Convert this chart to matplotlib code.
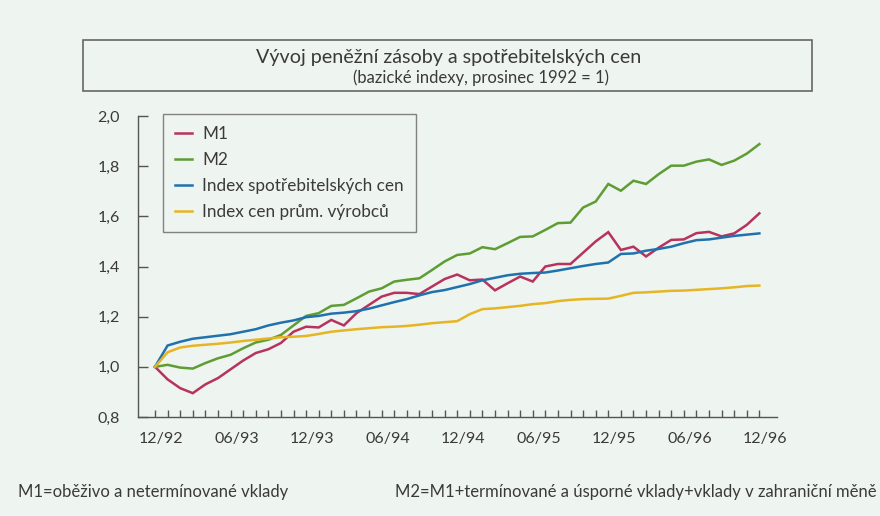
import matplotlib
matplotlib.use('Agg')
from matplotlib import pyplot as plt
from matplotlib.patches import Rectangle
from matplotlib.transforms import ScaledTranslation
import numpy as np

plt.rcParams['font.family'] = ['Lato', 'DejaVu Sans']

# monthly values, 12/92 .. 12/96 (base 12/92 = 1)
m1 = [1.000, 0.950, 0.915, 0.895, 0.930, 0.955, 0.990, 1.025, 1.055, 1.070,
      1.095, 1.140, 1.160, 1.157, 1.187, 1.165, 1.214, 1.247, 1.280, 1.295,
      1.295, 1.290, 1.320, 1.350, 1.368, 1.345, 1.348, 1.305, 1.333, 1.360,
      1.340, 1.400, 1.410, 1.410, 1.455, 1.500, 1.537, 1.466, 1.479, 1.440,
      1.475, 1.506, 1.508, 1.533, 1.538, 1.520, 1.532, 1.566, 1.612]
m2 = [1.000, 1.008, 0.997, 0.993, 1.015, 1.034, 1.048, 1.074, 1.097, 1.108,
      1.127, 1.165, 1.203, 1.214, 1.243, 1.247, 1.273, 1.300, 1.313, 1.340,
      1.347, 1.353, 1.386, 1.420, 1.446, 1.452, 1.477, 1.469, 1.493, 1.518,
      1.520, 1.546, 1.573, 1.575, 1.635, 1.659, 1.729, 1.702, 1.742, 1.729,
      1.768, 1.802, 1.802, 1.818, 1.827, 1.805, 1.822, 1.850, 1.888]
cpi = [1.000, 1.085, 1.100, 1.112, 1.118, 1.124, 1.130, 1.140, 1.150, 1.165,
       1.176, 1.185, 1.198, 1.203, 1.212, 1.216, 1.222, 1.232, 1.245, 1.258,
       1.270, 1.285, 1.298, 1.306, 1.318, 1.330, 1.345, 1.355, 1.365, 1.371,
       1.374, 1.376, 1.384, 1.393, 1.402, 1.410, 1.416, 1.450, 1.452, 1.463,
       1.470, 1.479, 1.493, 1.505, 1.508, 1.515, 1.522, 1.527, 1.532]
ppi = [1.000, 1.058, 1.077, 1.084, 1.088, 1.092, 1.097, 1.103, 1.108, 1.113,
       1.118, 1.120, 1.123, 1.131, 1.140, 1.145, 1.150, 1.154, 1.158, 1.160,
       1.163, 1.168, 1.174, 1.178, 1.182, 1.210, 1.230, 1.233, 1.238, 1.243,
       1.250, 1.254, 1.262, 1.267, 1.270, 1.271, 1.272, 1.283, 1.295, 1.297,
       1.300, 1.303, 1.304, 1.307, 1.310, 1.313, 1.317, 1.322, 1.324]

series_names = ['M1', 'M2', 'Index spotřebitelských cen', 'Index cen prům. výrobců']
series_colors = ['#b8325e', '#5e9c34', '#1f72ad', '#e6b523']

x_labels = ['12/92', '06/93', '12/93', '06/94', '12/94', '06/95', '12/95', '06/96', '12/96']
y_ticks = [0.8, 1.0, 1.2, 1.4, 1.6, 1.8, 2.0]

bg = '#eef4ef'
ink = '#3a3a3a'
W, H = 880, 516

fig = plt.figure(figsize=(W / 100, H / 100), dpi=100, facecolor=bg)
ax = fig.add_axes([138 / W, 1 - 417 / H, (777 - 138) / W, (417 - 116) / H])
ax.set_facecolor(bg)

months = np.arange(len(m1))
for vals, name, col in zip([m1, m2, cpi, ppi], series_names, series_colors):
    ax.plot(months, vals, color=col, lw=1.8, label=name, solid_joinstyle='miter')

ax.set_xlim(-1.35, 49.4)
ax.set_ylim(0.8, 2.0)

for s in ['top', 'right']:
    ax.spines[s].set_visible(False)
for s in ['left', 'bottom']:
    ax.spines[s].set_color('#555555')
    ax.spines[s].set_linewidth(1.0)

ax.set_xticks(np.arange(0, 49, 6))
ax.set_xticklabels(x_labels)
ax.set_xticks(months, minor=True)
ax.tick_params(axis='x', which='both', direction='in', length=5, width=1,
               color='#555555', pad=11, labelsize=11.5, labelcolor=ink)
off = ScaledTranslation(6 / 100, 0, fig.dpi_scale_trans)
for lbl in ax.get_xticklabels():
    lbl.set_transform(lbl.get_transform() + off)

ax.set_yticks(y_ticks)
ax.set_yticklabels([f'{v:.1f}'.replace('.', ',') for v in y_ticks])
ax.tick_params(axis='y', direction='in', length=7, width=1, color='#555555',
               pad=13, labelsize=11.5, labelcolor=ink)

leg = ax.legend(loc='upper left', bbox_to_anchor=(163 / W, 1 - 114 / H),
                bbox_transform=fig.transFigure, frameon=True, fancybox=False,
                fontsize=12.3, handlelength=1.0, handletextpad=0.6,
                labelspacing=0.58, borderpad=0.7, borderaxespad=0)
leg.get_frame().set_edgecolor('#666666')
leg.get_frame().set_facecolor(bg)
leg.get_frame().set_linewidth(1.0)
for t in leg.get_texts():
    t.set_color(ink)

# title box
fig.patches.append(Rectangle((83 / W, 1 - 91 / H), (812 - 83) / W, 51 / H,
                             transform=fig.transFigure, fill=False,
                             edgecolor='#666666', lw=1.2))
fig.text(449 / W, 1 - 58 / H, 'Vývoj peněžní zásoby a spotřebitelských cen',
         ha='center', va='center', fontsize=14.2, color=ink)
fig.text(481 / W, 1 - 78 / H, '(bazické indexy, prosinec 1992 = 1)',
         ha='center', va='center', fontsize=12, color=ink)

fig.text(18 / W, 1 - 492 / H, 'M1=oběživo a netermínované vklady',
         ha='left', va='center', fontsize=12, color=ink)
fig.text(877 / W, 1 - 492 / H,
         'M2=M1+termínované a úsporné vklady+vklady v zahraniční měně',
         ha='right', va='center', fontsize=12, color=ink)

fig.savefig('out.png', dpi=100, facecolor=bg)
